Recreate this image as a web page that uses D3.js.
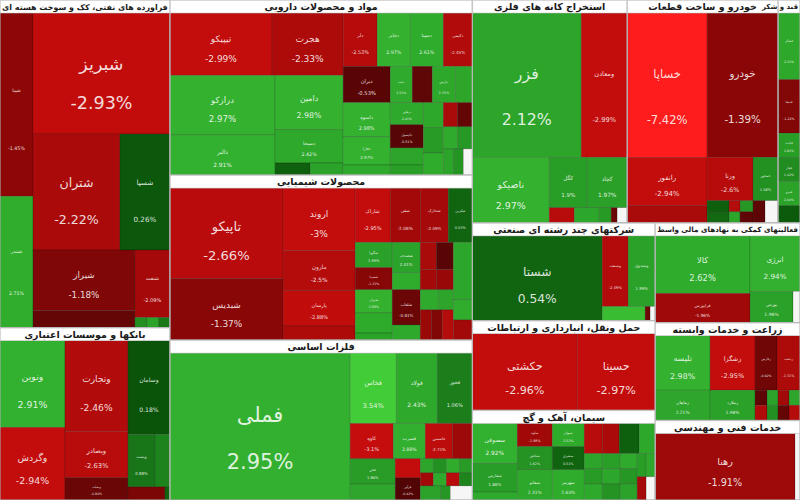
<!DOCTYPE html>
<html>
<head>
<meta charset="utf-8">
<script src="https://cdn.jsdelivr.net/npm/d3@7"></script>
<style>
  body { margin: 0; background: #fff; }
  svg { display: block; }
</style>
</head>
<body>
<svg width="800" height="500"></svg>
<script>
// sector titles, in the order used by the arrangement below
const sectorTitles = [
  "فراورده های نفتی، کک و سوخت هسته ای",
  "بانکها و موسسات اعتباری",
  "مواد و محصولات دارویی",
  "محصولات شیمیایی",
  "فلزات اساسی",
  "استخراج کانه های فلزی",
  "خودرو و ساخت قطعات",
  "قند و شکر",
  "شرکتهای چند رشته ای صنعتی",
  "حمل ونقل، انبارداری و ارتباطات",
  "سیمان، آهک و گچ",
  "فعالیتهای کمکی به نهادهای مالی واسط",
  "زراعت و خدمات وابسته",
  "خدمات فنی و مهندسی"
]

// stocks: [symbol, change %, market value]; "h" / "v" = group side by side / stacked
const petroleum = ["h",
  ["v", ["شپنا", -1.45, 6000], ["شبندر", 2.71, 4300]],
  ["v", ["شبریز", -2.93, 16440],
    ["h", ["شتران", -2.22, 10000], ["شسپا", 0.26, 5750]],
    ["h", ["v", ["شیراز", -1.18, 6120], ["شدوص", -0.71, 1730]],
          ["v", ["شنفت", -2.09, 2345], ["h", ["شاوان", 1.52, 120], ["شرانل", 2.04, 120], ["شکلر", 0.93, 110]]]]]
]

const banks = ["h",
  ["v", ["ونوین", 2.91, 5590], ["وگردش", -2.94, 4680]],
  ["v", ["وتجارت", -2.46, 5670], ["وبصادر", -2.63, 2900], ["وبملت", -0.84, 1390]],
  ["v", ["وسامان", 0.18, 3906], ["h", ["وپست", 0.88, 1404], ["ودی", 1.21, 780]], ["h", ["وپارس", -1.12, 481], ["وکار", 0.52, 65]]]
]

const pharma = ["h",
  ["v",
    ["h", ["تیپیکو", -2.99, 6324], ["هجرت", -2.33, 4402]],
    ["h",
      ["v", ["درازکو", 2.97, 6195], ["دالبر", 2.91, 4200]],
      ["v", ["دامین", 2.98, 3672], ["دسبحا", 2.42, 2244], ["h", ["دفرا", 0.41, 420], ["دکوثر", 2.03, 396]]]]],
  ["v",
    ["h", ["دلر", -2.53, 1802], ["دجابر", 2.97, 1749], ["دسینا", 2.61, 1749], ["دکیمی", -2.45, 1537]],
    ["h", ["دیران", -0.53, 1692], ["دعبید", 2.51, 792], ["دزهراوی", -0.62, 720], ["دپارس", 2.33, 828], ["دتولید", 2.18, 612]],
    ["h",
      ["v", ["داسوه", 2.98, 1598], ["دفارا", 2.97, 1316], ["دشیمی", 2.49, 470]],
      ["v", ["درهاور", 2.41, 726], ["دکپسول", -0.51, 759], ["دتهران", 2.12, 561], ["دبالک", 1.93, 330]],
      ["v", ["دشیری", 2.31, 500], ["دحاوی", 1.84, 500], ["دارو", 2.62, 440]],
      ["v", ["h", ["دتماد", -2.21, 336], ["دلقما", -0.72, 360]],
            ["h", ["دکیمیا", 2.44, 308], ["دسانکو", 1.76, 330]],
            ["h", ["دپاسا", 2.08, 260], ["دکیش", 1.64, 260], ["دفارس", 0, 234]]]]]
]

const chemicals = ["h",
  ["v", ["تاپیکو", -2.66, 10170], ["شبدیس", -1.37, 6893]],
  ["v", ["اروند", -3, 4464], ["مارون", -2.5, 2880], ["پارسان", -2.88, 2520], ["جم", -2.31, 1008]],
  ["v",
    ["h", ["شاراک", -2.95, 1890], ["شفن", -2.06, 1620], ["شخارک", -2.09, 1512], ["شکربن", 0.53, 1296]],
    ["h",
      ["v", ["شگویا", 1.99, 925], ["شسینا", -1.31, 814], ["شیران", 2.98, 851], ["شبهرن", 2.52, 740], ["شاملا", 2.04, 259]],
      ["v", ["شصدف", 2.01, 840], ["شپاکسا", 2.63, 476], ["شلعاب", -0.81, 980], ["شفارس", 2.42, 420]],
      ["v", ["h", ["شپترو", -2.21, 432], ["شغدیر", -0.52, 459]],
            ["h", ["شاروم", -2.04, 320], ["شکام", -1.72, 340]],
            ["h", ["شپارس", 2.48, 360], ["شرنگی", 2.11, 300]],
            ["h", ["شلرد", -1.83, 330], ["شتوکا", -1.21, 330], ["شصفها", -2.52, 330]]],
      ["v", ["شفارا", 2.28, 1083], ["شسم", 2.71, 380], ["شیمیا", -2.02, 380]]]]
]

const metals = ["h",
  ["فملی", 2.95, 26280],
  ["v",
    ["h", ["فخاس", 3.54, 3220], ["فولاد", 2.43, 2870], ["فخوز", 1.06, 2450]],
    ["h", ["کاوه", -3.1, 1505], ["فسرب", 2.88, 1120], ["فاسمین", -2.75, 945], ["فنورد", -1.86, 700]],
    ["h",
      ["v", ["فجر", 1.86, 1125], ["فگستر", 2.21, 720]],
      ["v", ["فپنتا", -2.99, 475], ["فرآور", -0.42, 550]],
      ["v", ["h", ["فلوله", 2.12, 182], ["فسپا", 1.53, 182], ["فجام", 2.61, 182], ["فباهنر", 1.82, 182]],
            ["h", ["فالوم", -2.03, 169], ["فروی", 2.44, 169], ["فمراد", -2.62, 169], ["فاراک", 1.24, 169]],
            ["h", ["فنوال", 2.02, 280], ["فسازان", 1.71, 140], ["فتوسا", 0, 308]]]]]
]

const mining = ["v",
  ["h", ["فزر", 2.12, 15587], ["ومعادن", -2.99, 6578]],
  ["h", ["ناصیکو", 2.97, 5005],
    ["v", ["h", ["کگل", 1.9, 1900], ["کچاد", 1.97, 2000]],
          ["h", ["کدما", -2.61, 375], ["کروی", 2.22, 375], ["کمنگنز", 1.81, 180], ["کسرا", -0.82, 90], ["کطبس", 0, 150]]]]
]

const auto = ["v",
  ["h", ["خساپا", -7.42, 11440], ["خودرو", -1.39, 10153]],
  ["h",
    ["v", ["رانفور", -2.94, 3840], ["خمهر", -2.21, 1360]],
    ["v", ["ورنا", -2.6, 1978],
      ["h", ["v", ["خکمک", 0.42, 264], ["خگستر", 0.61, 220]],
            ["v", ["خریخت", -2.52, 121], ["خچرخش", 2.11, 121]],
            ["v", ["خفنر", 1.73, 143], ["خکاوه", -0.63, 143]]]],
    ["v", ["خمحور", 1.56, 1075], ["h", ["خاور", -0.61, 264], ["ختور", 0, 286]]]]
]

const sugar = ["v", ["قشکر", 2.31, 1452], ["قنیشا", -1.22, 1166], ["قثابت", 1.91, 528], ["قچار", 1.42, 528], ["قمرو", 2.04, 528], ["قلرست", 0.31, 374]]

const diversified = ["h", ["شستا", 0.54, 10920],
  ["v", ["h", ["وصنعت", -2.49, 1820], ["وصندوق", 1.99, 1890]], ["h", ["رنیک", 3.21, 602], ["وپخش", -0.91, 70], ["ومشان", 0, 70]]]]

const transport = ["h", ["حکشتی", -2.96, 7980], ["حسینا", -2.97, 5928]]

const cement = ["h",
  ["v", ["سصوفی", 2.92, 1800], ["سفارس", 1.88, 1260], ["سیلام", 2.41, 360]],
  ["v", ["ساوه", -1.98, 805], ["سخاش", 1.62, 805], ["سفانو", 2.31, 1050]],
  ["v", ["سبهان", 2.52, 736], ["سشرق", 0.51, 736], ["سهرمز", 2.63, 960]],
  ["v",
    ["h", ["سکرما", -2.61, 540], ["سخوز", -2.22, 510], ["ساروم", 0.42, 600], ["سفار", 2.33, 480]],
    ["h", ["v", ["سدور", 2.11, 270], ["سغرب", 1.82, 270], ["سبجنو", 2.43, 288]],
          ["v", ["سشمال", 1.94, 270], ["سکرد", 2.22, 270], ["سنیر", 1.61, 288]],
          ["v", ["سقاین", 2.51, 255], ["ساربیل", 1.71, 255], ["سمتاز", 2.02, 272]],
          ["v", ["h", ["سیدکو", 1.92, 207], ["سخزر", 2.31, 207]], ["h", ["سایلام", -2.12, 207], ["سباقر", 0, 207]]]]]
]

const financial = ["h",
  ["v", ["کالا", 2.62, 5415], ["فرابورس", -1.96, 2755]],
  ["v", ["انرژی", 2.94, 2750], ["h", ["بورس", 1.98, 1333], ["سدبیر", 0, 217]]]
]

const agriculture = ["h",
  ["v", ["تلیسه", 2.98, 2970], ["زماهان", 2.21, 1650]],
  ["v", ["زشگزا", -2.95, 2430], ["زملارد", 1.98, 1350]],
  ["v", ["h", ["زفارس", -0.92, 1188], ["زدشت", -2.31, 1242]],
        ["h", ["v", ["زکوثر", -0.61, 180], ["زقیام", -2.42, 180]],
              ["v", ["زپارس", 2.01, 165], ["زگلدشت", 1.52, 165]],
              ["v", ["زمگسا", -2.03, 165], ["زکشت", -0.71, 165]],
              ["v", ["زبینا", 2.21, 165], ["زنجان", -2.52, 165]]]]
]

const engineering = ["h", ["رهنا", -1.91, 9240], ["خبتن", 0, 330]]

const sectorContents = [petroleum, banks, pharma, chemicals, metals, mining, auto, sugar,
  diversified, transport, cement, financial, agriculture, engineering]

// how the sectors (by index) sit on the page
const arrangement = ["h", ["v", 0, 1], ["v", 2, 3, 4],
  ["v", ["h", 5, 6, 7], ["h", ["v", 8, 9, 10], ["v", 11, 12, 13]]]]

const W = 800, H = 500, headerH = 13
let headerVal = sectorTitles.map(() => 0)

function toNode(a) {
  if (typeof a === "number") {
    return { dir: "v", sector: a, children: [{ header: true, sector: a, value: headerVal[a] }, toNode(sectorContents[a])] }
  }
  if (a[0] === "h" || a[0] === "v") return { dir: a[0], children: a.slice(1).map(toNode) }
  return { name: a[0], change: a[1], value: a[2] }
}

function tile(node, x0, y0, x1, y1) {
  (node.data.dir === "h" ? d3.treemapDice : d3.treemapSlice)(node, x0, y0, x1, y1)
}

// run the layout a few times so the title bands get their own share of the area
let root
for (let i = 0; i < 8; i++) {
  root = d3.treemap().tile(tile).size([W, H])(d3.hierarchy(toNode(arrangement)).sum(d => d.value || 0))
  const k = root.value / (W * H)
  root.leaves().filter(d => d.data.header).forEach(d => {
    headerVal[d.data.sector] = (d.x1 - d.x0) * headerH * k
  })
}

const negColor = d3.scaleLinear().domain([-7.5, -2.9, -1.4, -0.3])
  .range(["#ff1c1c", "#c20c0c", "#8c0707", "#4c0505"]).clamp(true)
const posColor = d3.scaleLinear().domain([0.2, 1.0, 2.1, 3.0, 3.6])
  .range(["#0a540a", "#1a7c1a", "#2ca52a", "#33b12f", "#44cf38"]).clamp(true)
const color = c => c === 0 ? "#f6f6f6" : (c < 0 ? negColor(c) : posColor(c))
const fmt = c => `${+c.toFixed(2)}%`

const svg = d3.select("svg")
svg.append("rect").attr("width", W).attr("height", H).attr("fill", "#fff")

const tiles = root.leaves().filter(d => !d.data.header)
svg.append("g").selectAll("rect").data(tiles).join("rect")
  .attr("x", d => d.x0).attr("y", d => d.y0)
  .attr("width", d => d.x1 - d.x0).attr("height", d => d.y1 - d.y0)
  .attr("fill", d => color(d.data.change))
  .attr("stroke", "rgba(0,0,0,0.28)").attr("stroke-width", 0.6)

const lab = svg.append("g").attr("font-family", "DejaVu Sans")
  .attr("fill", "rgba(255,255,255,0.86)").attr("text-anchor", "middle")
tiles.forEach(d => {
  const w = d.x1 - d.x0, h = d.y1 - d.y0
  const f = Math.min(21, Math.min(w, h) * 0.145)
  if (f < 3 || d.data.change === 0) return
  const cx = (d.x0 + d.x1) / 2;
  [[d.data.name, 0.42, "rtl"], [fmt(d.data.change), 0.74, "ltr"]].forEach(([s, fy, dir]) => {
    const t = lab.append("text").attr("x", cx).attr("y", d.y0 + h * fy).attr("dy", "0.35em")
      .attr("font-size", f).attr("direction", dir).text(s)
    const len = t.node().getComputedTextLength()
    if (len > w - 2) t.attr("font-size", f * (w - 2) / len)
  })
})

// sector frames and title bands
const sectors = root.descendants().filter(d => d.data.sector !== undefined && !d.data.header)
svg.append("g").selectAll("rect").data(sectors).join("rect")
  .attr("x", d => d.x0).attr("y", d => d.y0)
  .attr("width", d => d.x1 - d.x0).attr("height", d => d.y1 - d.y0)
  .attr("fill", "none").attr("stroke", "#b8b8b8").attr("stroke-width", 1)

const heads = root.leaves().filter(d => d.data.header)
svg.append("g").selectAll("rect").data(heads).join("rect")
  .attr("x", d => d.x0 + 0.5).attr("y", d => d.y0 + 0.5)
  .attr("width", d => d.x1 - d.x0 - 1).attr("height", d => d.y1 - d.y0 - 0.5)
  .attr("fill", "#fff").attr("stroke", "#c8c8c8").attr("stroke-width", 0.6)

// titles: centred, shrunk to fit; a title too long even at 7px runs leftwards from the band's right end
const headText = svg.append("g").attr("font-family", "DejaVu Sans").attr("font-weight", "bold").attr("fill", "#1a1a1a")
heads.forEach(d => {
  const w = d.x1 - d.x0
  const t = headText.append("text")
    .attr("x", (d.x0 + d.x1) / 2).attr("y", (d.y0 + d.y1) / 2 + 0.5).attr("dy", "0.35em")
    .attr("text-anchor", "middle").attr("direction", "rtl").attr("font-size", 9.5)
    .text(sectorTitles[d.data.sector])
  const len = t.node().getComputedTextLength()
  if (len > w - 4) {
    const fs = 9.5 * (w - 4) / len
    if (fs >= 7) t.attr("font-size", fs)
    else t.attr("font-size", 7).attr("direction", "ltr").attr("text-anchor", "end").attr("x", d.x1 - 2)
  }
})
</script>
</body>
</html>
